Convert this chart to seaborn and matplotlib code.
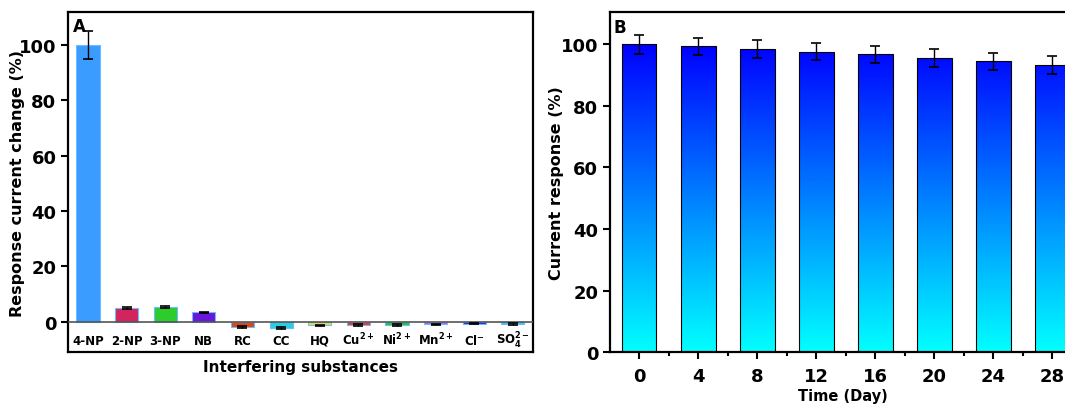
import seaborn as sns
import numpy as np
import pandas as pd
import matplotlib.pyplot as plt
from matplotlib.ticker import FixedLocator
from matplotlib.colors import LinearSegmentedColormap, Normalize

# ---- panel A data: selectivity ----
substances = ["4-NP", "2-NP", "3-NP", "NB", "RC", "CC", "HQ",
              "Cu$^{2+}$", "Ni$^{2+}$", "Mn$^{2+}$", "Cl$^{-}$", "SO$_{4}^{2-}$"]
change = [100.0, 4.9, 5.3, 3.3, -2.0, -2.2, -1.4, -1.2, -1.2, -0.9, -0.7, -0.9]
change_err = [5.0, 0.4, 0.4, 0.3, 0.4, 0.3, 0.3, 0.3, 0.3, 0.2, 0.3, 0.3]
bar_colors = ["#3a9cff", "#d3245e", "#2bcc2b", "#6a17dc", "#e0440f", "#27cfe0",
              "#e6e040", "#ff2a2a", "#22c822", "#cc55ee", "#1028e0", "#2ccbe8"]

# ---- panel B data: stability ----
days = [0, 4, 8, 12, 16, 20, 24, 28]
response = [100.0, 99.3, 98.5, 97.6, 96.7, 95.7, 94.5, 93.3]
response_err = [3.0, 2.9, 2.9, 2.8, 2.8, 2.9, 2.8, 2.8]

sns.set_style("ticks")
plt.rcParams["font.family"] = ["DejaVu Sans"]
plt.rcParams["mathtext.fontset"] = "custom"
plt.rcParams["mathtext.bf"] = "DejaVu Sans:bold"
plt.rcParams["mathtext.rm"] = "DejaVu Sans:bold"
plt.rcParams["mathtext.default"] = "bf"
for k in ("text.color", "axes.labelcolor", "xtick.color", "ytick.color"):
    plt.rcParams[k] = "black"

fig = plt.figure(figsize=(10.65, 4.06), dpi=100)
axA = fig.add_axes([0.0641, 0.1298, 0.4363, 0.8374])
axB = fig.add_axes([0.5728, 0.1300, 0.4376, 0.8372])

# ---------------- panel A ----------------
dfA = pd.DataFrame({"sub": substances, "val": change})
sns.barplot(data=dfA, x="sub", y="val", hue="sub", palette=bar_colors,
            saturation=1, legend=False, width=0.6, ax=axA, errorbar=None,
            edgecolor="#6cbcff", linewidth=0.8)
xs = [p.get_x() + p.get_width() / 2 for p in axA.patches]
axA.errorbar(xs, change, yerr=change_err, fmt="none", ecolor="black",
             elinewidth=1.0, capsize=3.5, capthick=1.2, zorder=5)
axA.axhline(0, color="#555555", lw=1.2, zorder=4)
axA.set_xlim(-0.51, 11.52)
axA.set_ylim(-11.1, 111.8)
axA.set_yticks([0, 20, 40, 60, 80, 100])
axA.tick_params(axis="y", direction="out", length=5, width=1.5, labelsize=13)
axA.tick_params(axis="x", length=0, pad=-6, labelsize=8.5)
for lab in axA.get_xticklabels():
    lab.set_va("baseline")
    lab.set_fontweight("bold")
for lab in axA.get_yticklabels():
    lab.set_fontweight("bold")
axA.set_xlabel("Interfering substances", fontsize=11, fontweight="bold", labelpad=5)
axA.set_ylabel("Response current change (%)", fontsize=11.5, fontweight="bold")
axA.yaxis.set_label_coords(-0.093, 0.5)
axA.text(0.009, 0.985, "A", transform=axA.transAxes, ha="left", va="top",
         fontsize=12, fontweight="bold")

# ---------------- panel B ----------------
dfB = pd.DataFrame({"day": days, "resp": response})
sns.barplot(data=dfB, x="day", y="resp", native_scale=True, width=0.59,
            color="blue", errorbar=None, ax=axB, edgecolor="black",
            linewidth=0.8)
cmap = LinearSegmentedColormap.from_list("bc", ["#00ffff", "#0000ff"])
grad = np.linspace(0, 1, 256).reshape(-1, 1)
for p in axB.patches:
    x0, w, h = p.get_x(), p.get_width(), p.get_height()
    p.set_facecolor("none")
    p.set_zorder(3)
    img = axB.imshow(grad * h, cmap=cmap, norm=Normalize(0, 100),
                     extent=(x0, x0 + w, 0, h), origin="lower",
                     aspect="auto", zorder=2)
    img.set_clip_path(p)
bx = [p.get_x() + p.get_width() / 2 for p in axB.patches]
axB.errorbar(bx, response, yerr=response_err, fmt="none", ecolor="black",
             elinewidth=1.0, capsize=3.5, capthick=1.2, zorder=5)
axB.set_xlim(-1.965, 29.6)
axB.set_ylim(0, 110.4)
axB.set_xticks(days)
axB.xaxis.set_minor_locator(FixedLocator([2, 6, 10, 14, 18, 22, 26]))
axB.set_yticks([0, 20, 40, 60, 80, 100])
axB.tick_params(axis="both", which="major", direction="out", length=5,
                width=1.5, labelsize=13)
axB.tick_params(axis="x", which="major", pad=5.5)
axB.tick_params(axis="x", which="minor", direction="out", length=3, width=1.5)
for lab in axB.get_xticklabels() + axB.get_yticklabels():
    lab.set_fontweight("bold")
axB.set_xlabel("Time (Day)", fontsize=10.5, fontweight="bold", labelpad=2)
axB.set_ylabel("Current response (%)", fontsize=11.5, fontweight="bold")
axB.yaxis.set_label_coords(-0.099, 0.5)
axB.text(0.007, 0.982, "B", transform=axB.transAxes, ha="left", va="top",
         fontsize=12, fontweight="bold")

for ax in (axA, axB):
    for s in ax.spines.values():
        s.set_visible(True)
        s.set_linewidth(1.6)
        s.set_color("black")

fig.savefig("out.png", dpi=100)
